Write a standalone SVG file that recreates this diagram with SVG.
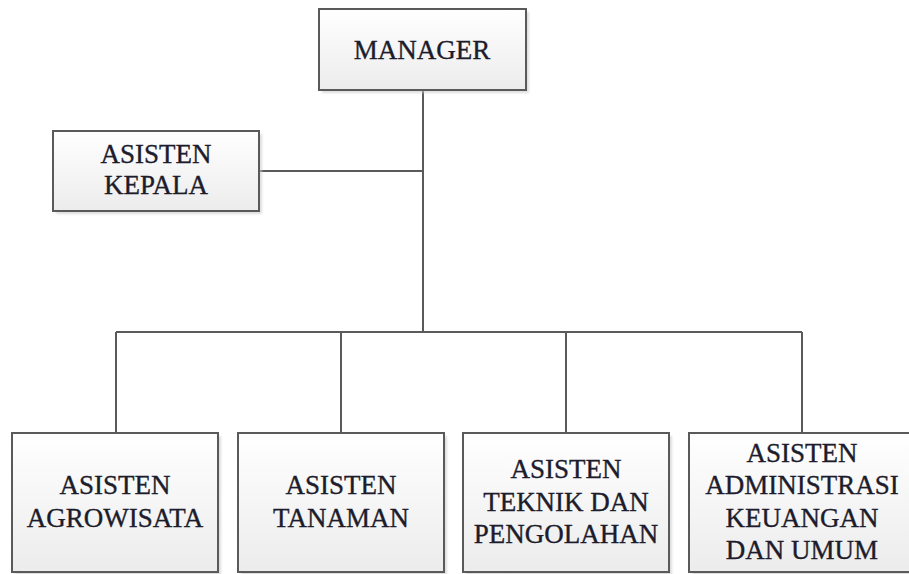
<svg xmlns="http://www.w3.org/2000/svg" width="909" height="574" viewBox="0 0 909 574">
<style>
.box{fill:url(#g);stroke:#5a5a5a;stroke-width:2}
.sh{fill:#c8c8c8;opacity:0.6}
.t{font-family:'Liberation Serif','Times New Roman',Times,serif;font-size:27px;fill:#1c1c2c;text-anchor:middle;stroke:#1c1c2c;stroke-width:0.35}
.c{stroke:#5a5a5a;stroke-width:2;fill:none}
</style>
<defs>
<linearGradient id="g" x1="0" y1="0" x2="0" y2="1">
<stop offset="0" stop-color="#ffffff"/>
<stop offset="1" stop-color="#ececec"/>
</linearGradient>
<filter id="blur" x="-10%" y="-10%" width="120%" height="120%"><feGaussianBlur stdDeviation="1.2"/></filter>
</defs>
<rect width="909" height="574" fill="#ffffff"/>
<g id="connectors">
<path class="c" d="M423 90 V332"/>
<path class="c" d="M259 171 H423"/>
<path class="c" d="M116 332 H802"/>
<path class="c" d="M116 332 V433"/>
<path class="c" d="M341 332 V433"/>
<path class="c" d="M566 332 V433"/>
<path class="c" d="M802 332 V433"/>
</g>
<g id="manager">
<rect class="sh" x="322" y="12" width="207" height="81" filter="url(#blur)"/>
<rect class="box" x="319" y="9" width="207" height="81"/>
<text class="t" x="422" y="59" font-family="Liberation Serif, serif">MANAGER</text>
</g>
<g id="asisten-kepala">
<rect class="sh" x="56" y="134" width="206" height="80" filter="url(#blur)"/>
<rect class="box" x="53" y="131" width="206" height="80"/>
<text class="t" x="156" y="163">ASISTEN</text>
<text class="t" x="156" y="194">KEPALA</text>
</g>
<g id="asisten-agrowisata">
<rect class="sh" x="15" y="436" width="206" height="150" filter="url(#blur)"/>
<rect class="box" x="12" y="433" width="206" height="139"/>
<text class="t" x="115" y="494">ASISTEN</text>
<text class="t" x="115" y="527">AGROWISATA</text>
</g>
<g id="asisten-tanaman">
<rect class="sh" x="241" y="436" width="206" height="150" filter="url(#blur)"/>
<rect class="box" x="238" y="433" width="206" height="139"/>
<text class="t" x="341" y="494">ASISTEN</text>
<text class="t" x="341" y="527">TANAMAN</text>
</g>
<g id="asisten-teknik">
<rect class="sh" x="466" y="436" width="206" height="150" filter="url(#blur)"/>
<rect class="box" x="463" y="433" width="206" height="139"/>
<text class="t" x="566" y="478">ASISTEN</text>
<text class="t" x="566" y="511">TEKNIK DAN</text>
<text class="t" x="566" y="543">PENGOLAHAN</text>
</g>
<g id="asisten-administrasi">
<rect class="sh" x="692" y="436" width="230" height="150" filter="url(#blur)"/>
<rect class="box" x="689" y="433" width="228" height="139"/>
<text class="t" x="802" y="462">ASISTEN</text>
<text class="t" x="802" y="494">ADMINISTRASI</text>
<text class="t" x="802" y="527">KEUANGAN</text>
<text class="t" x="802" y="559">DAN UMUM</text>
</g>
</svg>
